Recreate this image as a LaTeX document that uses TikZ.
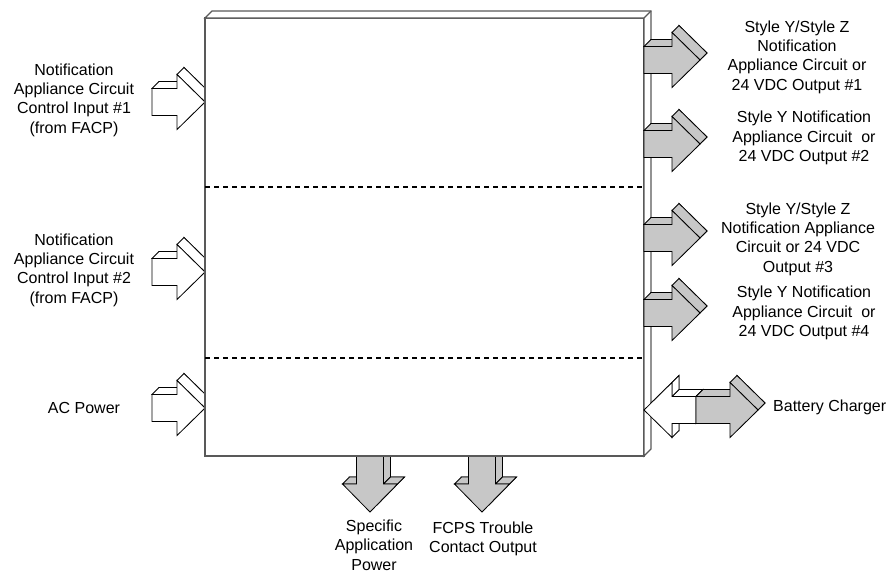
\documentclass[tikz,border=0pt]{standalone}
\usepackage{fontspec}
\setmainfont{Liberation Sans}

\begin{document}
\begin{tikzpicture}[x=1pt,y=-1pt]

\tikzset{
  lbl/.style={align=center,inner sep=0pt,font=\fontsize{16}{19.3}\selectfont},
  hollow/.style={draw=black,line width=0.8pt,fill=white},
  shaded/.style={hollow,fill=black!22},
  boxline/.style={draw=black!65,line width=1.2pt},
  divider/.style={black,line width=1.4pt,dash pattern=on 5pt off 4pt},
  pics/rarrow/.style={code={
    \path[pic actions] (7,-20.5) -- (#1+7,-20.5) -- (#1+7,-34.5) -- (#1+35,-7) -- (#1+7,20.5) -- (#1+7,6.5) -- (7,6.5) -- cycle;
    \path[pic actions] (0,-13.5) -- (7,-20.5) -- (#1+7,-20.5) -- (#1,-13.5) -- cycle;
    \path[pic actions] (#1,-27.5) -- (#1+7,-34.5) -- (#1+35,-7) -- (#1+28,0) -- cycle;
    \path[pic actions] (0,-13.5) -- (#1,-13.5) -- (#1,-27.5) -- (#1+28,0) -- (#1,27.5) -- (#1,13.5) -- (0,13.5) -- cycle;
  }},
  pics/larrow/.style={code={
    \path[pic actions] (7,-20.5) -- (-#1+7,-20.5) -- (-#1+7,-34.5) -- (-#1-21,-7) -- (-#1+7,20.5) -- (-#1+7,6.5) -- (7,6.5) -- cycle;
    \path[pic actions] (0,-13.5) -- (-#1,-13.5) -- (-#1+7,-20.5) -- (7,-20.5) -- cycle;
    \path[pic actions] (0,-13.5) -- (0,13.5) -- (7,6.5) -- (7,-20.5) -- cycle;
    \path[pic actions] (-#1,-13.5) -- (-#1,-27.5) -- (-#1+7,-34.5) -- (-#1+7,-20.5) -- cycle;
    \path[pic actions] (-#1,13.5) -- (-#1,27.5) -- (-#1+7,20.5) -- (-#1+7,6.5) -- cycle;
    \path[pic actions] (0,-13.5) -- (-#1,-13.5) -- (-#1,-27.5) -- (-#1-28,0) -- (-#1,27.5) -- (-#1,13.5) -- (0,13.5) -- cycle;
  }},
  pics/darrow/.style={code={
    \path[pic actions] (-6.5,-7) -- (20.5,-7) -- (20.5,#1-7) -- (34.5,#1-7) -- (7,#1+21) -- (-20.5,#1-7) -- (-6.5,#1-7) -- cycle;
    \path[pic actions] (13.5,0) -- (13.5,#1) -- (20.5,#1-7) -- (20.5,-7) -- cycle;
    \path[pic actions] (-27.5,#1) -- (-13.5,#1) -- (-6.5,#1-7) -- (-20.5,#1-7) -- cycle;
    \path[pic actions] (13.5,#1) -- (27.5,#1) -- (34.5,#1-7) -- (20.5,#1-7) -- cycle;
    \path[pic actions] (-13.5,0) -- (13.5,0) -- (13.5,#1) -- (27.5,#1) -- (0,#1+28) -- (-27.5,#1) -- (-13.5,#1) -- cycle;
  }}
}

\useasboundingbox (0,0) rectangle (893,573);

\pic[hollow] (inA) at (152,102) {rarrow=25};
\pic[hollow] (inB) at (152,272) {rarrow=25};
\pic[hollow] (inC) at (152,408) {rarrow=25};
\pic[shaded] (outP) at (370,456) {darrow=28};
\pic[shaded] (outF) at (482,456) {darrow=28};

\node[boxline,fill=white,inner sep=0pt,outer sep=0pt,minimum width=439pt,minimum height=438pt] (unit) at (424.5,237) {};
\filldraw[boxline,fill=white] (unit.north west) -- ++(7,-7) -| ([shift={(7,-7)}]unit.south east) -- (unit.south east) -- (unit.north east) -- cycle;
\draw[boxline] (unit.north east) -- ++(7,-7);
\draw[divider] (205,187) -- (644,187);
\draw[divider] (205,358) -- (644,358);

\pic[shaded] (out1) at (644,60) {rarrow=28};
\pic[shaded] (out2) at (644,144) {rarrow=28};
\pic[shaded] (out3) at (644,238) {rarrow=28};
\pic[shaded] (out4) at (644,313) {rarrow=28};
\pic[hollow] (batL) at (696,410) {larrow=24};
\pic[shaded] (batR) at (696,410) {rarrow=34};

\node[lbl] (inAtxt) at (74,100) {Notification\\Appliance Circuit\\Control Input \#1\\(from FACP)};
\node[lbl] (inBtxt) at (74,270) {Notification\\Appliance Circuit\\Control Input \#2\\(from FACP)};
\node[lbl] (inCtxt) at (84,408) {AC Power};
\node[lbl] (out1txt) at (797,57) {Style Y/Style Z\\Notification\\Appliance Circuit or\\24 VDC Output \#1};
\node[lbl] (out2txt) at (804,138) {Style Y Notification\\Appliance Circuit~ or\\24 VDC Output \#2};
\node[lbl] (out3txt) at (798,239) {Style Y/Style Z\\Notification Appliance\\Circuit or 24 VDC\\Output \#3};
\node[lbl] (out4txt) at (804,313) {Style Y Notification\\Appliance Circuit~ or\\24 VDC Output \#4};
\node[lbl,anchor=west] (battxt) at (773,407) {Battery Charger};
\node[lbl] (powtxt) at (374,545) {Specific\\Application\\Power};
\node[lbl] (flttxt) at (483,539) {FCPS Trouble\\Contact Output};

\end{tikzpicture}
\end{document}
